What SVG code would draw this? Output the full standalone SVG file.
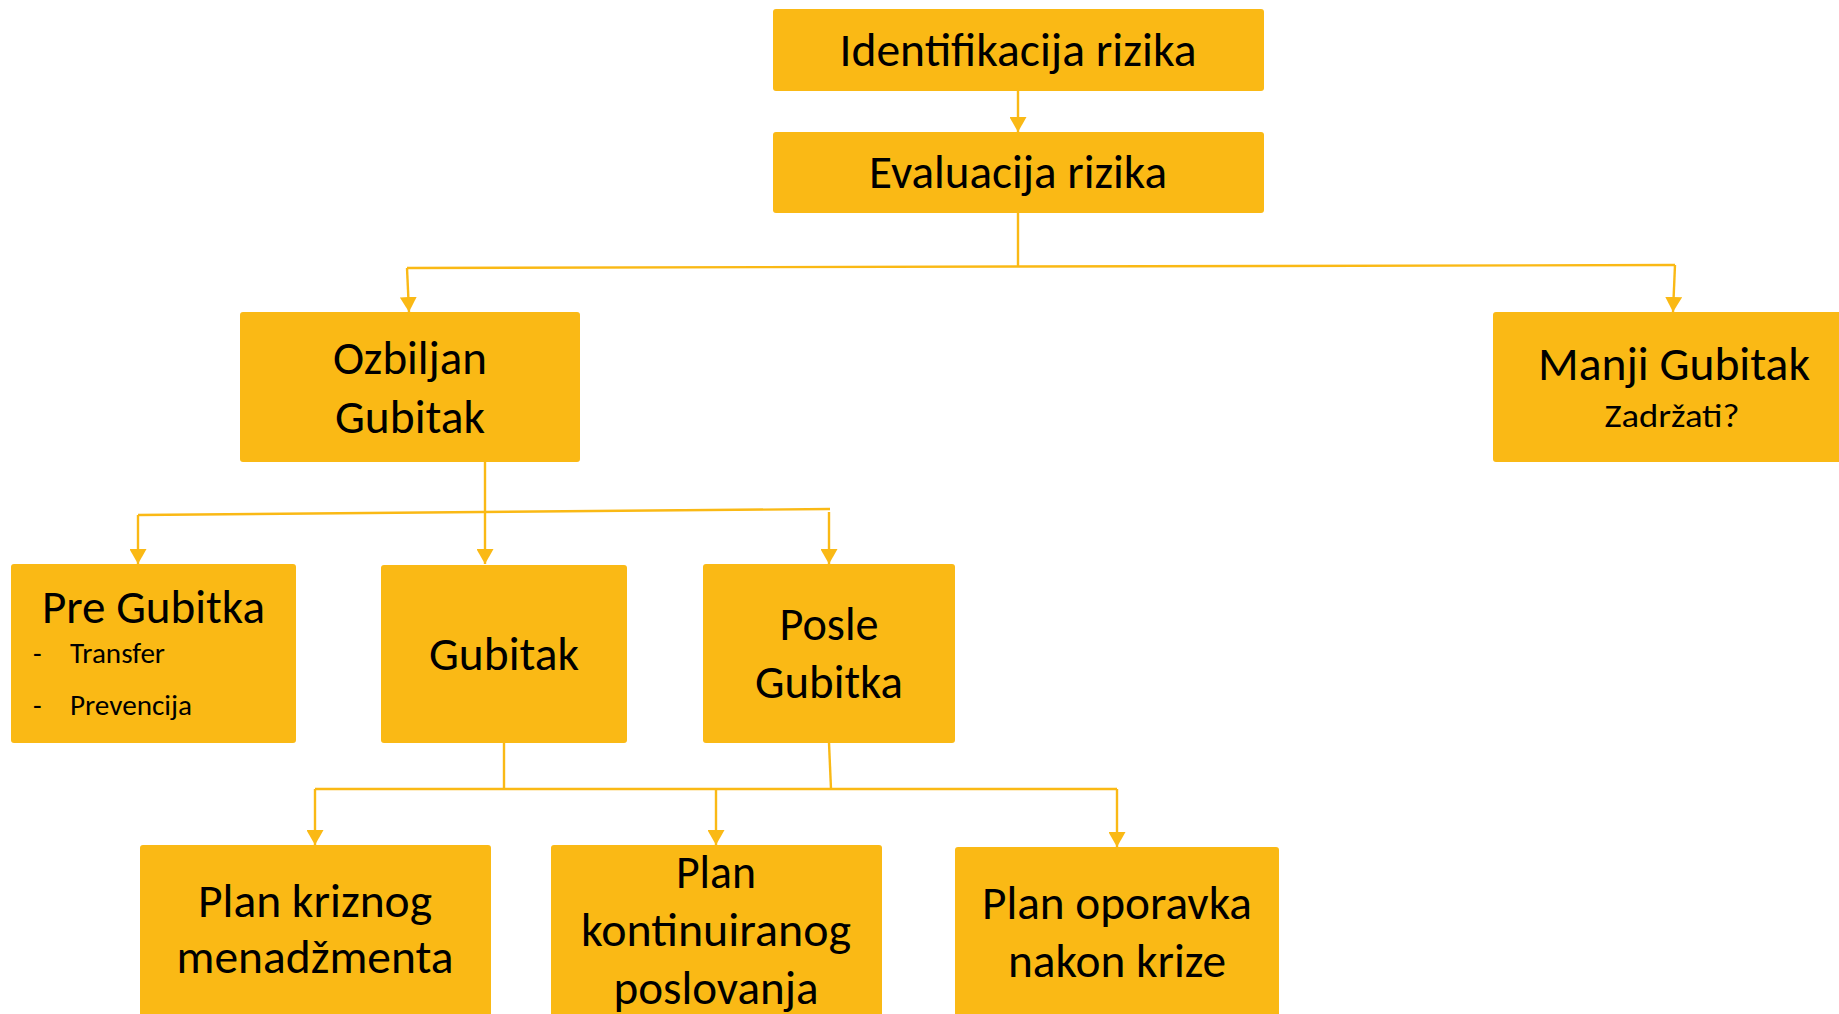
<svg xmlns="http://www.w3.org/2000/svg" width="1839" height="1014" viewBox="0 0 1839 1014">
<style>
.box{fill:#FAB915;}
.t{font-family:Carlito,Lato,"Open Sans",sans-serif;font-size:47px;fill:#000;text-anchor:middle;}
.s{font-family:Carlito,Lato,"Open Sans",sans-serif;font-size:28px;fill:#000;}
.m{font-family:Carlito,Lato,"Open Sans",sans-serif;font-size:33px;fill:#000;text-anchor:middle;}
.c{fill:none;stroke:#FAB915;stroke-width:2.4;}
.a{marker-end:url(#ah);}
</style>
<defs>
<marker id="ah" markerUnits="userSpaceOnUse" viewBox="0 0 15 17" markerWidth="15" markerHeight="17" refX="15" refY="8.5" orient="auto">
<path d="M0,0 L15,8.5 L0,17 z" fill="#FAB915"/>
</marker>
</defs>
<rect width="1839" height="1014" fill="#fff"/>
<g id="connectors">
<path class="c a" d="M1018,91 L1018,132"/>
<path class="c" d="M1018,213 L1018,267"/>
<path class="c" d="M407,268 L1675,265"/>
<path class="c a" d="M407,268 L409,312"/>
<path class="c a" d="M1675,265 L1673,312"/>
<path class="c a" d="M485,462 L485,564"/>
<path class="c" d="M138,515 L830,509"/>
<path class="c a" d="M138,515 L138,564"/>
<path class="c a" d="M829,512 L829,564"/>
<path class="c" d="M504,743 L504,789"/>
<path class="c" d="M829,743 L831,789"/>
<path class="c" d="M315,789 L1117,789"/>
<path class="c a" d="M315,789 L315,845"/>
<path class="c a" d="M716,789 L716,845"/>
<path class="c a" d="M1117,789 L1117,847"/>
</g>
<g id="identifikacija">
<rect class="box" x="773" y="9" width="491" height="82" rx="3"/>
<text class="t" x="1018" y="66" textLength="357" lengthAdjust="spacingAndGlyphs">Identifikacija rizika</text>
</g>
<g id="evaluacija">
<rect class="box" x="773" y="132" width="491" height="81" rx="3"/>
<text class="t" x="1018" y="188" textLength="298" lengthAdjust="spacingAndGlyphs">Evaluacija rizika</text>
</g>
<g id="ozbiljan">
<rect class="box" x="240" y="312" width="340" height="150" rx="3"/>
<text class="t" x="410" y="374" textLength="154" lengthAdjust="spacingAndGlyphs">Ozbiljan</text>
<text class="t" x="410" y="433" textLength="150" lengthAdjust="spacingAndGlyphs">Gubitak</text>
</g>
<g id="manji">
<rect class="box" x="1493" y="312" width="360" height="150" rx="3"/>
<text class="t" x="1674" y="380" textLength="272" lengthAdjust="spacingAndGlyphs">Manji Gubitak</text>
<text class="m" x="1672" y="427" textLength="135" lengthAdjust="spacingAndGlyphs">Zadržati?</text>
</g>
<g id="pre">
<rect class="box" x="11" y="564" width="285" height="179" rx="3"/>
<text class="t" x="153.5" y="623" textLength="223" lengthAdjust="spacingAndGlyphs">Pre Gubitka</text>
<text class="s" x="33" y="663">-</text>
<text class="s" x="70" y="663" textLength="95" lengthAdjust="spacingAndGlyphs">Transfer</text>
<text class="s" x="33" y="715">-</text>
<text class="s" x="70" y="715" textLength="122" lengthAdjust="spacingAndGlyphs">Prevencija</text>
</g>
<g id="gubitak">
<rect class="box" x="381" y="565" width="246" height="178" rx="3"/>
<text class="t" x="504" y="670" textLength="150" lengthAdjust="spacingAndGlyphs">Gubitak</text>
</g>
<g id="posle">
<rect class="box" x="703" y="564" width="252" height="179" rx="3"/>
<text class="t" x="829" y="640" textLength="99" lengthAdjust="spacingAndGlyphs">Posle</text>
<text class="t" x="829" y="698" textLength="148" lengthAdjust="spacingAndGlyphs">Gubitka</text>
</g>
<g id="plan-kriznog">
<rect class="box" x="140" y="845" width="351" height="180" rx="3"/>
<text class="t" x="315" y="917" textLength="234" lengthAdjust="spacingAndGlyphs">Plan kriznog</text>
<text class="t" x="315" y="973" textLength="277" lengthAdjust="spacingAndGlyphs">menadžmenta</text>
</g>
<g id="plan-kontinuiranog">
<rect class="box" x="551" y="845" width="331" height="180" rx="3"/>
<text class="t" x="716" y="888" textLength="80" lengthAdjust="spacingAndGlyphs">Plan</text>
<text class="t" x="716" y="946" textLength="270" lengthAdjust="spacingAndGlyphs">kontinuiranog</text>
<text class="t" x="716" y="1004" textLength="205" lengthAdjust="spacingAndGlyphs">poslovanja</text>
</g>
<g id="plan-oporavka">
<rect class="box" x="955" y="847" width="324" height="180" rx="3"/>
<text class="t" x="1117" y="919" textLength="270" lengthAdjust="spacingAndGlyphs">Plan oporavka</text>
<text class="t" x="1117" y="977" textLength="218" lengthAdjust="spacingAndGlyphs">nakon krize</text>
</g>
</svg>
